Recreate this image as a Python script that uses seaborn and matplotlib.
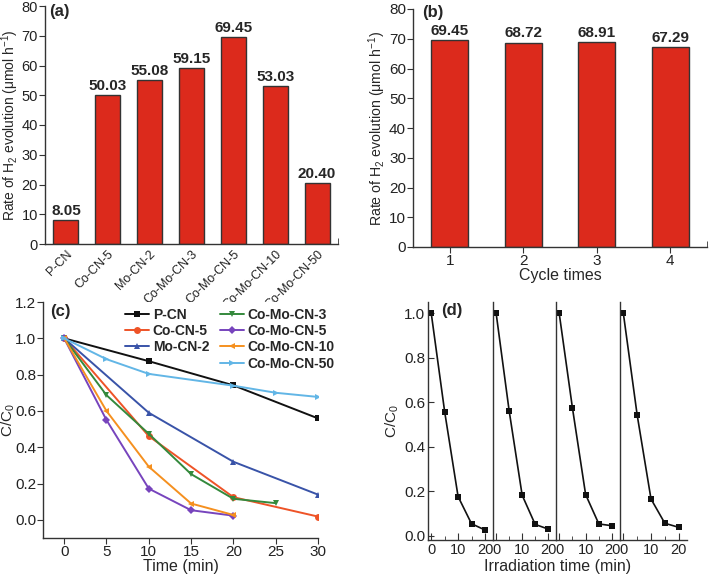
import matplotlib
matplotlib.use('Agg')
import matplotlib.pyplot as plt
import matplotlib.ticker as mticker
import seaborn as sns

# (a) H2 evolution rates
samples = ['P-CN', 'Co-CN-5', 'Mo-CN-2', 'Co-Mo-CN-3', 'Co-Mo-CN-5', 'Co-Mo-CN-10', 'Co-Mo-CN-50']
rates = [8.05, 50.03, 55.08, 59.15, 69.45, 53.03, 20.40]

# (b) cycling
cycles = ['1', '2', '3', '4']
cycle_rates = [69.45, 68.72, 68.91, 67.29]

# (c) degradation curves
pcn_t = [0, 10, 20, 30]
pcn_c = [1.0, 0.874, 0.741, 0.559]
cocn5_t = [0, 10, 20, 30]
cocn5_c = [1.0, 0.461, 0.125, 0.018]
mocn2_t = [0, 10, 20, 30]
mocn2_c = [1.0, 0.590, 0.320, 0.139]
comocn3_t = [0, 5, 10, 15, 20, 25]
comocn3_c = [1.0, 0.687, 0.474, 0.252, 0.116, 0.092]
comocn5_t = [0, 5, 10, 15, 20]
comocn5_c = [1.0, 0.550, 0.172, 0.053, 0.023]
comocn10_t = [0, 5, 10, 15, 20]
comocn10_c = [1.0, 0.600, 0.293, 0.090, 0.027]
comocn50_t = [0, 5, 10, 20, 25, 30]
comocn50_c = [1.0, 0.885, 0.804, 0.739, 0.700, 0.677]

# (d) recycling runs
run_t = [0, 5, 10, 15, 20]
run1 = [1.0, 0.558, 0.177, 0.055, 0.027]
run2 = [1.0, 0.562, 0.183, 0.052, 0.031]
run3 = [1.0, 0.576, 0.186, 0.054, 0.046]
run4 = [1.0, 0.543, 0.166, 0.057, 0.039]

sns.set_style('ticks')
plt.rcParams['font.family'] = ['Liberation Sans', 'DejaVu Sans']
plt.rcParams['mathtext.fontset'] = 'custom'
plt.rcParams['mathtext.rm'] = 'Liberation Sans'
plt.rcParams['mathtext.it'] = 'Liberation Sans:italic'
plt.rcParams['mathtext.bf'] = 'Liberation Sans:bold'
plt.rcParams['axes.edgecolor'] = '#333333'
plt.rcParams['axes.linewidth'] = 1.0
plt.rcParams['xtick.color'] = '#333333'
plt.rcParams['ytick.color'] = '#333333'
plt.rcParams['xtick.labelcolor'] = '#222222'
plt.rcParams['ytick.labelcolor'] = '#222222'

bar_color = '#dc2a1c'
W, H = 709, 576
fig = plt.figure(figsize=(W / 100, H / 100), dpi=100)

def box(l, r, b, t):
    return [l / W, 1 - b / H, (r - l) / W, (b - t) / H]

ylab = 'Rate of H$_2$ evolution (μmol h$^{-1}$)'

# ---- (a)
ax_a = fig.add_axes(box(45, 338, 244, 6))
sns.barplot(x=samples, y=rates, ax=ax_a, color=bar_color, saturation=1, width=0.6,
            edgecolor='#333333', linewidth=1)
ax_a.bar_label(ax_a.containers[0], fmt='%.2f', fontsize=11, fontweight='bold', padding=1.5)
ax_a.set_xlim(-0.5, 6.5)
ax_a.set_ylim(0, 80)
ax_a.set_yticks(range(0, 81, 10))
ax_a.tick_params(axis='y', labelsize=10.5, length=4, pad=1)
ax_a.tick_params(axis='x', length=0, labelsize=9, pad=3)
plt.setp(ax_a.get_xticklabels(), rotation=45, ha='right', rotation_mode='anchor')
ax_a.xaxis.set_minor_locator(mticker.FixedLocator([6.5]))
ax_a.tick_params(axis='x', which='minor', direction='in', length=4)
ax_a.set_ylabel(ylab, fontsize=10)
ax_a.yaxis.set_label_coords(-24 / 293, 0.5)
ax_a.set_xlabel('')
sns.despine(ax=ax_a)
ax_a.text(0.015, 1.008, '(a)', transform=ax_a.transAxes, va='top', fontsize=12, fontweight='bold')

# ---- (b)
ax_b = fig.add_axes(box(413, 707, 247, 9))
sns.barplot(x=cycles, y=cycle_rates, ax=ax_b, color=bar_color, saturation=1, width=0.5,
            edgecolor='#333333', linewidth=1)
ax_b.bar_label(ax_b.containers[0], fmt='%.2f', fontsize=11, fontweight='bold', padding=1.5)
ax_b.set_xlim(-0.5, 3.5)
ax_b.set_ylim(0, 80)
ax_b.set_yticks(range(0, 81, 10))
ax_b.tick_params(axis='both', labelsize=11, length=4, pad=1)
ax_b.xaxis.set_minor_locator(mticker.FixedLocator([3.5]))
ax_b.tick_params(axis='x', which='minor', direction='in', length=4)
ax_b.set_ylabel(ylab, fontsize=10.2)
ax_b.yaxis.set_label_coords(-25 / 294, 0.5)
ax_b.set_xlabel('Cycle times', fontsize=11.5, labelpad=0)
sns.despine(ax=ax_b)
ax_b.text(0.03, 1.018, '(b)', transform=ax_b.transAxes, va='top', fontsize=12, fontweight='bold')

# ---- (c)
ax_c = fig.add_axes(box(43, 318, 538, 302))
series = [
    ('P-CN', pcn_t, pcn_c, 's', '#111111'),
    ('Co-CN-5', cocn5_t, cocn5_c, 'o', '#ee5327'),
    ('Mo-CN-2', mocn2_t, mocn2_c, '^', '#3953a8'),
    ('Co-Mo-CN-3', comocn3_t, comocn3_c, 'v', '#34893c'),
    ('Co-Mo-CN-5', comocn5_t, comocn5_c, 'D', '#7744bd'),
    ('Co-Mo-CN-10', comocn10_t, comocn10_c, '<', '#f5901f'),
    ('Co-Mo-CN-50', comocn50_t, comocn50_c, '>', '#62b6e6'),
]
for name, t, c, m, col in series:
    ms = 4 if m == 'D' else 5
    sns.lineplot(x=t, y=c, ax=ax_c, marker=m, color=col, label=name, linewidth=1.4,
                 markersize=ms, markeredgewidth=0)
ax_c.set_xlim(-2.5, 30)
ax_c.set_ylim(-0.1, 1.2)
ax_c.set_xticks(range(0, 31, 5))
ax_c.set_yticks([0, 0.2, 0.4, 0.6, 0.8, 1.0, 1.2])
ax_c.yaxis.set_major_formatter(mticker.FormatStrFormatter('%.1f'))
ax_c.tick_params(axis='both', labelsize=11, length=4, pad=1)
ax_c.set_xlabel('Time (min)', fontsize=11.5, labelpad=0)
ax_c.set_ylabel('C/C$_0$', fontsize=11)
ax_c.yaxis.set_label_coords(-26 / 275, 0.5)
sns.despine(ax=ax_c)
handles, labels = ax_c.get_legend_handles_labels()
leg_kw = dict(loc='upper left', frameon=False, prop={'weight': 'bold', 'size': 10},
              handlelength=1.7, handletextpad=0.3, labelspacing=0.16,
              borderaxespad=0, borderpad=0)
leg1 = ax_c.legend(handles[:3], labels[:3], bbox_to_anchor=(82 / 275, 0.975), **leg_kw)
ax_c.add_artist(leg1)
ax_c.legend(handles[3:], labels[3:], bbox_to_anchor=(177 / 275, 0.975), **leg_kw)
ax_c.text(0.025, 0.99, '(c)', transform=ax_c.transAxes, va='top', fontsize=12, fontweight='bold')

# ---- (d)
runs = [run1, run2, run3, run4]
edges = [428, 493, 556, 620, 687]
for i, run in enumerate(runs):
    ax = fig.add_axes(box(edges[i], edges[i + 1], 540, 302))
    sns.lineplot(x=run_t, y=run, ax=ax, marker='s', color='#111111', linewidth=1.2,
                 markersize=5, markeredgewidth=0)
    ax.set_xlim(-1.2, 23)
    ax.set_ylim(-0.018, 1.05)
    ax.set_xticks([0, 10, 20])
    ax.xaxis.set_minor_locator(mticker.FixedLocator([5, 15]))
    ax.tick_params(axis='x', which='both', direction='in', labelsize=10.5, pad=2)
    ax.tick_params(axis='x', which='major', length=5)
    ax.tick_params(axis='x', which='minor', length=3)
    ax.set_yticks([0, 0.2, 0.4, 0.6, 0.8, 1.0])
    ax.yaxis.set_major_formatter(mticker.FormatStrFormatter('%.1f'))
    if i == 0:
        ax.tick_params(axis='y', direction='in', labelsize=11, length=4, pad=2)
        ax.set_ylabel('C/C$_0$', fontsize=11)
        ax.yaxis.set_label_coords(-27 / 65, 0.5)
        ax.text(0.2, 0.995, '(d)', transform=ax.transAxes, va='top', fontsize=12, fontweight='bold')
    else:
        ax.tick_params(axis='y', length=0, labelleft=False)
        ax.set_ylabel('')
    ax.set_xlabel('')
    sns.despine(ax=ax)

fig.text((428 + 687) / 2 / W, 1 - 567 / H, 'Irradiation time (min)', ha='center', va='center', fontsize=11.5)

fig.savefig('out.png', dpi=100)
